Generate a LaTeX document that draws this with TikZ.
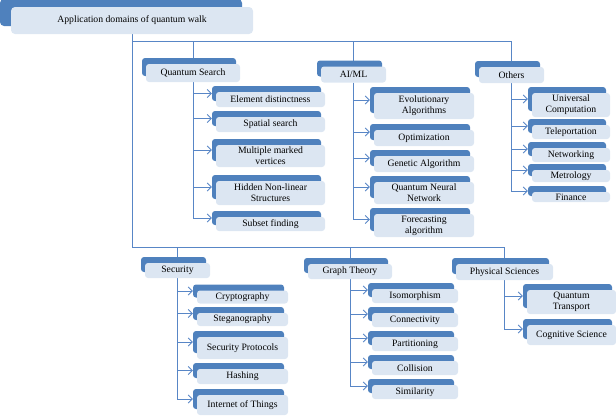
\documentclass[tikz,border=0pt]{standalone}
\usepackage{fontspec}
\setmainfont{Liberation Serif}
\usetikzlibrary{arrows.meta,shadows,backgrounds}

\definecolor{qwdark}{RGB}{79,129,189}
\definecolor{qwlight}{RGB}{220,230,242}
\definecolor{qwline}{RGB}{88,134,198}

\tikzset{
  plainbox/.style={fill=qwlight, rounded corners=3pt, align=center, inner sep=1pt,
    font=\fontsize{9.7}{11.2}\selectfont},
  rootbox/.style={plainbox, rounded corners=4pt,
    general shadow={fill=qwdark, shadow xshift=-11pt, shadow yshift=8pt}},
  catbox/.style={plainbox,
    general shadow={fill=qwdark, shadow xshift=-4pt, shadow yshift=6pt}},
  leafbox/.style={catbox},
  conn/.style={draw=qwline, line width=0.8pt},
  arr/.style={conn, -{Straight Barb[length=4pt,width=8pt]}},
}

\begin{document}
\begin{tikzpicture}[x=1pt, y=-1pt]
    \useasboundingbox (0,0) rectangle (616,416);

    % Root
    \node[rootbox, minimum width=242pt, minimum height=27pt] (root) at (132,20.5) {Application domains of quantum walk};

    % Quantum Search
    \node[catbox, minimum width=94pt, minimum height=18pt] (qs) at (193,73) {Quantum Search};
    \begin{scope}[leafbox/.append style={minimum width=109pt}]
        \node[leafbox, minimum height=15pt] (ed) at (270.5,99.5) {Element distinctness};
        \node[leafbox, minimum height=15pt] (ss) at (270.5,124.5) {Spatial search};
        \node[leafbox, minimum height=22pt] (mmv) at (270.5,156) {Multiple marked\\vertices};
        \node[leafbox, minimum height=24pt] (hnl) at (270.5,193) {Hidden Non-linear\\Structures};
        \node[leafbox, minimum height=14pt] (sf) at (270.5,224) {Subset finding};
    \end{scope}

    % AI/ML
    \node[catbox, minimum width=65pt, minimum height=16pt] (ai) at (353.5,74.5) {AI/ML};
    \begin{scope}[leafbox/.append style={minimum width=100pt}]
        \node[leafbox, minimum height=26pt] (ea) at (424,106) {Evolutionary\\Algorithms};
        \node[leafbox, minimum height=16pt] (opt) at (424,138) {Optimization};
        \node[leafbox, minimum height=16pt] (ga) at (424,164) {Genetic Algorithm};
        \node[leafbox, minimum height=22pt] (qnn) at (424,193) {Quantum Neural\\Network};
        \node[leafbox, minimum height=23pt] (fa) at (424,225.5) {Forecasting\\algorithm};
    \end{scope}

    % Others
    \node[catbox, minimum width=65pt, minimum height=16pt] (oth) at (511.5,75) {Others};
    \begin{scope}[leafbox/.append style={minimum width=78pt}]
        \node[leafbox, minimum height=24pt] (uc) at (571,105) {Universal\\Computation};
        \node[leafbox, minimum height=14pt] (tel) at (571,132) {Teleportation};
        \node[leafbox, minimum height=14pt] (net) at (571,155) {Networking};
        \node[leafbox, minimum height=12pt] (met) at (571,176) {Metrology};
        \node[leafbox, minimum height=10pt] (fin) at (571,197) {Finance};
    \end{scope}

    % Security
    \node[catbox, minimum width=65pt, minimum height=15pt] (sec) at (177.5,270.5) {Security};
    \begin{scope}[leafbox/.append style={minimum width=91pt}]
        \node[leafbox, minimum height=13pt] (cry) at (242.5,297) {Cryptography};
        \node[leafbox, minimum height=13pt] (steg) at (242.5,319.5) {Steganography};
        \node[leafbox, minimum height=22pt] (sp) at (242.5,348) {Security Protocols};
        \node[leafbox, minimum height=15pt] (hash) at (242.5,376.5) {Hashing};
        \node[leafbox, minimum height=20pt] (iot) at (242.5,405) {Internet of Things};
    \end{scope}

    % Graph Theory
    \node[catbox, minimum width=84pt, minimum height=15pt] (gt) at (350,271.5) {Graph Theory};
    \begin{scope}[leafbox/.append style={minimum width=86pt, minimum height=14pt}]
        \node[leafbox] (iso) at (415,296) {Isomorphism};
        \node[leafbox] (con) at (415,320) {Connectivity};
        \node[leafbox] (part) at (415,344) {Partitioning};
        \node[leafbox] (col) at (415,368) {Collision};
        \node[leafbox] (sim) at (415,392) {Similarity};
    \end{scope}

    % Physical Sciences
    \node[catbox, minimum width=97pt, minimum height=16pt] (phys) at (504.5,272) {Physical Sciences};
    \begin{scope}[leafbox/.append style={minimum width=89pt}]
        \node[leafbox, minimum height=24pt] (qt) at (571.5,302) {Quantum\\Transport};
        \node[leafbox, minimum height=20pt] (cs) at (571.5,335) {Cognitive Science};
    \end{scope}

    % Connectors
    \begin{pgfonlayer}{background}
        \coordinate (tb) at (132,41);
        \coordinate (lb) at (132,247);
        \draw[conn] (root) -- (lb) -| (phys);
        \draw[conn] (tb) -| (oth);
        \draw[conn] (tb) -| (qs);
        \draw[conn] (tb) -| (ai);
        \draw[conn] (lb) -| (sec);
        \draw[conn] (lb) -| (gt);
        \foreach \c in {ed,ss,mmv,hnl,sf}
            \draw[arr] (qs) |- ([shift={(-4pt,6pt)}]\c.west);
        \foreach \c in {ea,opt,ga,qnn,fa}
            \draw[arr] (ai) |- ([shift={(-4pt,6pt)}]\c.west);
        \foreach \c in {uc,tel,net,met,fin}
            \draw[arr] (oth) |- ([shift={(-4pt,6pt)}]\c.west);
        \foreach \c in {cry,steg,sp,hash,iot}
            \draw[arr] (sec) |- ([shift={(-4pt,6pt)}]\c.west);
        \foreach \c in {iso,con,part,col,sim}
            \draw[arr] (gt) |- ([shift={(-4pt,6pt)}]\c.west);
        \foreach \c in {qt,cs}
            \draw[arr] (phys) |- ([shift={(-4pt,6pt)}]\c.west);
    \end{pgfonlayer}
\end{tikzpicture}
\end{document}
